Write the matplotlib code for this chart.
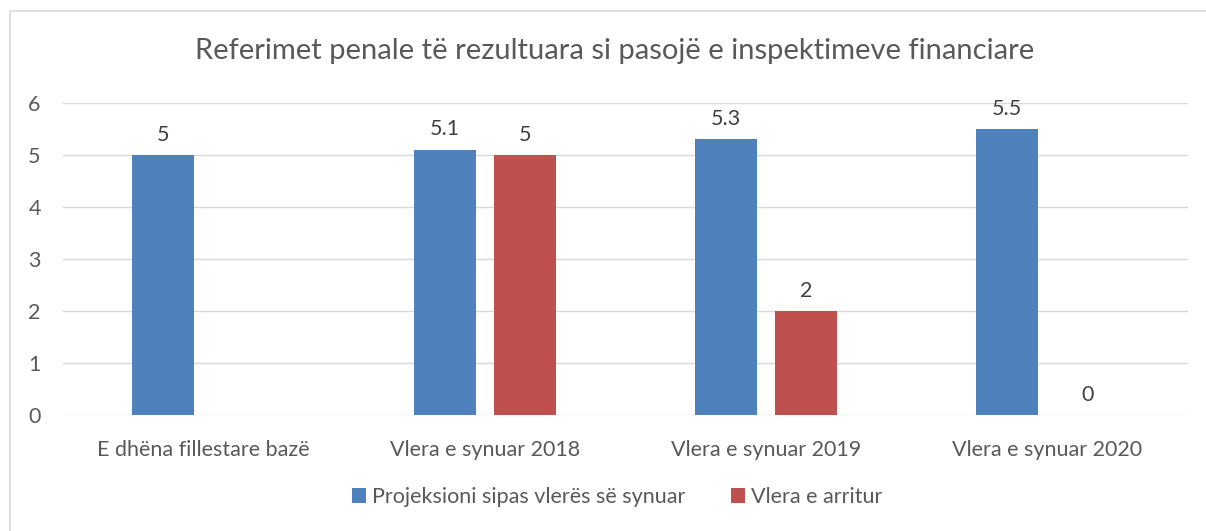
import matplotlib
matplotlib.use("Agg")
import matplotlib.pyplot as plt
import numpy as np
from matplotlib.patches import Rectangle

categories = ["E dhëna fillestare bazë", "Vlera e synuar 2018", "Vlera e synuar 2019", "Vlera e synuar 2020"]
projeksioni = [5, 5.1, 5.3, 5.5]
arritur = [np.nan, 5, 2, 0]
series_names = ["Projeksioni sipas vlerës së synuar", "Vlera e arritur"]
yticks = [0, 1, 2, 3, 4, 5, 6]

plt.rcParams['font.family'] = ['Lato', 'DejaVu Sans']
txt = '#595959'
blue = '#4f81bd'
red = '#c0504d'

W, H = 1206, 531
fig = plt.figure(figsize=(W/100, H/100), dpi=100)
fig.patches.append(Rectangle((10/W, -0.1), 1.2, 1 - 11/H + 0.1, transform=fig.transFigure,
                             fill=False, edgecolor='#d9d9d9', linewidth=1.2))

ax = fig.add_axes([63/W, 1 - 415/H, (1188-63)/W, (415-103)/H])
x = np.arange(len(categories))
bw = 0.22
off = 0.143
b1 = ax.bar(x - off, projeksioni, bw, color=blue, label=series_names[0], zorder=3)
b2 = ax.bar(x + off, arritur, bw, color=red, label=series_names[1], zorder=3)

for xi, v in zip(x, projeksioni):
    ax.text(xi - off, v + 0.2, f"{v:g}", ha='center', va='bottom', fontsize=15.5, color='#404040')
for xi, v in zip(x, arritur):
    if not np.isnan(v):
        ax.text(xi + off, v + 0.2, f"{v:g}", ha='center', va='bottom', fontsize=15.5, color='#404040')

ax.set_xlim(-0.5, len(categories) - 0.5)
ax.set_ylim(0, 6)
ax.set_yticks(yticks)
ax.set_xticks(x)
ax.set_xticklabels(categories)
ax.tick_params(axis='both', length=0, labelsize=15.5, colors=txt)
ax.tick_params(axis='x', pad=18)
ax.tick_params(axis='y', pad=25)
for lbl in ax.get_yticklabels():
    lbl.set_horizontalalignment('left')
ax.grid(axis='y', color='#d9d9d9', linewidth=1, zorder=0)
for s in ax.spines.values():
    s.set_visible(False)
ax.set_axisbelow(True)

fig.text(615/W, 1 - 51/H, "Referimet penale të rezultuara si pasojë e inspektimeve financiare",
         ha='center', va='center', fontsize=21, color=txt)

leg = fig.legend(handles=[b1, b2], labels=series_names, loc='center', bbox_to_anchor=(617/W, 1 - 497/H),
                 ncol=2, frameon=False, fontsize=15.5, handlelength=0.65, handleheight=0.65,
                 columnspacing=2.1, handletextpad=0.3)
for t in leg.get_texts():
    t.set_color(txt)

fig.savefig("out.png", dpi=100)
